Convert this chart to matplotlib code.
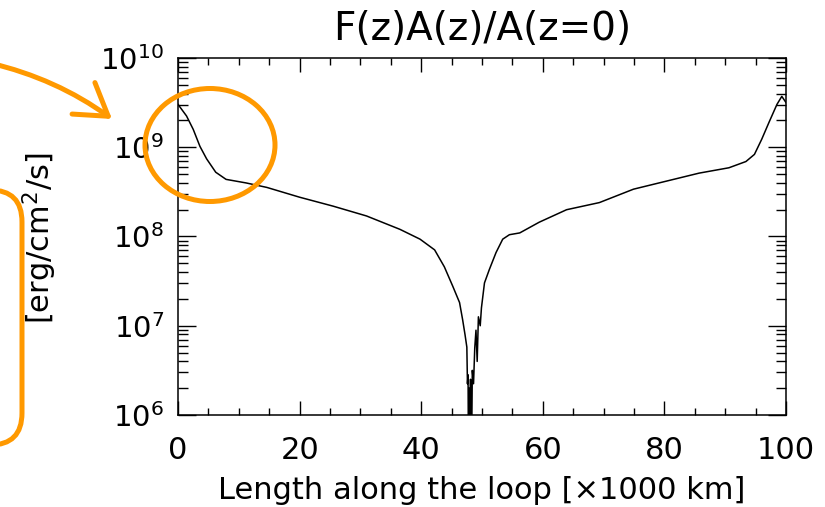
import numpy as np
import matplotlib
matplotlib.use('Agg')
import matplotlib.pyplot as plt
from matplotlib.ticker import LogLocator, MultipleLocator, NullFormatter
from matplotlib.patches import Ellipse, FancyBboxPatch, FancyArrowPatch
from matplotlib.transforms import Affine2D

# loop position [x1000 km] and log10 of F(z)A(z)/A(z=0)
z = [0, 1.4, 2.5, 3.6, 4.7, 6.2, 7.9, 11.2, 14.6, 20, 25.5, 31, 36.5, 39.8,
     42.2, 43.8, 45.2, 46.3, 46.8, 47.2, 47.5, 47.6, 47.7, 47.8, 47.9, 48.0,
     48.1, 48.2, 48.4, 48.6, 48.8, 49.0, 49.2, 49.4, 49.7, 49.9, 50.4, 51.2,
     52.3, 53.4, 54.5, 56.2, 59.4, 63.9, 69.3, 74.9, 80.3, 85.7, 90.6, 93.4,
     94.8, 96.0, 97.2, 98.5, 99.3, 100]
logflux = [9.48, 9.35, 9.20, 9.01, 8.87, 8.72, 8.64, 8.60, 8.55, 8.44, 8.34,
           8.23, 8.08, 7.97, 7.85, 7.66, 7.44, 7.26, 7.07, 6.90, 6.76, 6.35,
           6.45, 5.0, 6.30, 5.0, 6.40, 5.0, 6.50, 6.35, 6.75, 6.95, 6.60,
           7.10, 7.00, 7.20, 7.48, 7.63, 7.82, 7.97, 8.02, 8.04, 8.16, 8.30,
           8.38, 8.53, 8.62, 8.71, 8.77, 8.84, 8.92, 9.09, 9.28, 9.48, 9.57,
           9.50]
flux = 10.0 ** np.array(logflux)

orange = '#FF9900'

fig = plt.figure(figsize=(8.25, 5.07), dpi=100)
ax = fig.add_axes([0.2158, 0.1815, 0.7370, 0.7041])

ax.plot(z, flux, color='black', lw=1.1)
ax.set_yscale('log')
ax.set_xlim(0, 100)
ax.set_ylim(1e6, 1e10)

ax.xaxis.set_major_locator(MultipleLocator(20))
ax.xaxis.set_minor_locator(MultipleLocator(5))
ax.yaxis.set_major_locator(LogLocator(base=10))
ax.yaxis.set_minor_locator(LogLocator(base=10, subs=np.arange(2, 10)))
ax.yaxis.set_minor_formatter(NullFormatter())

ax.tick_params(which='both', direction='in', top=True, right=True, width=1.0,
               colors='black')
ax.tick_params(axis='x', which='major', length=10, pad=15, labelsize=22)
ax.tick_params(axis='x', which='minor', length=5)
ax.tick_params(axis='y', which='major', length=13, pad=10, labelsize=21)
ax.tick_params(axis='y', which='minor', length=7)
for s in ax.spines.values():
    s.set_linewidth(1.1)

ax.set_title('F(z)A(z)/A(z=0)', fontsize=28, pad=13)
ax.set_xlabel('Length along the loop [\u00d71000 km]', fontsize=22)
ax.xaxis.set_label_coords(0.5, -0.17)
ax.xaxis.label.set_va('top')
fig.text(40 / 825, 1 - 238 / 507, '[erg/cm$^2$/s]', rotation=90,
         ha='center', va='center', fontsize=22)

# orange annotation marks, in picture pixel coordinates
pix = Affine2D().scale(1 / 100.0).scale(1, -1).translate(0, 5.07) + fig.dpi_scale_trans

ell = Ellipse((210, 145), 130, 113, fill=False, ec=orange, lw=3.6,
              transform=pix, clip_on=False)
fig.add_artist(ell)

box = FancyBboxPatch((-200, 190), 222, 255,
                     boxstyle='round,pad=0,rounding_size=32',
                     fill=False, ec=orange, lw=3.6, transform=pix, clip_on=False)
fig.add_artist(box)

arr = FancyArrowPatch((-10, 63), (112, 119), transform=pix,
                      connectionstyle='arc3,rad=-0.1',
                      arrowstyle='->,head_length=1.1,head_width=0.7',
                      mutation_scale=20, color=orange, lw=3.6,
                      shrinkA=0, shrinkB=0, clip_on=False)
fig.add_artist(arr)

fig.savefig('out.png', dpi=100)
